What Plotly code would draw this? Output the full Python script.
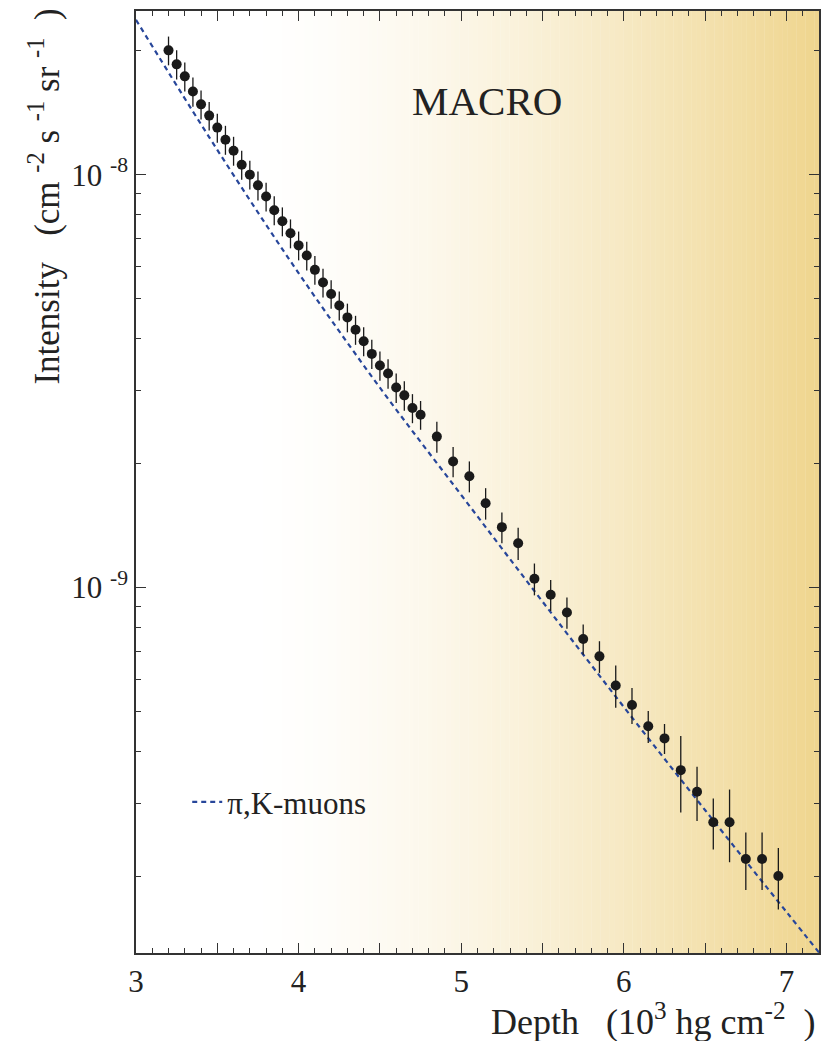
import plotly.graph_objects as go

# ---- data ----
depth = [3.20, 3.25, 3.30, 3.35, 3.40, 3.45, 3.50, 3.55, 3.60, 3.65, 3.70, 3.75,
         3.80, 3.85, 3.90, 3.95, 4.00, 4.05, 4.10, 4.15, 4.20, 4.25, 4.30, 4.35,
         4.40, 4.45, 4.50, 4.55, 4.60, 4.65, 4.70, 4.75,
         4.85, 4.95, 5.05, 5.15, 5.25, 5.35, 5.45, 5.55, 5.65, 5.75, 5.85, 5.95,
         6.05, 6.15, 6.25, 6.35, 6.45, 6.55, 6.65, 6.75, 6.85, 6.95]
# intensity in units of 1e-9 cm^-2 s^-1 sr^-1
intensity_e9 = [20.0, 18.5, 17.3, 15.9, 14.8, 13.9, 13.0, 12.15, 11.43, 10.57, 10.0, 9.42,
                8.85, 8.20, 7.71, 7.21, 6.74, 6.37, 5.88, 5.48, 5.14, 4.82, 4.51, 4.21,
                3.95, 3.68, 3.45, 3.30, 3.05, 2.92, 2.72, 2.62,
                2.32, 2.02, 1.86, 1.60, 1.40, 1.28, 1.05, 0.960, 0.870, 0.750, 0.681, 0.579,
                0.519, 0.461, 0.431, 0.361, 0.320, 0.270, 0.270, 0.220, 0.220, 0.200]
error_e9 = [1.6, 1.5, 1.4, 1.3, 1.2, 1.1, 1.05, 0.98, 0.92, 0.85, 0.80, 0.76,
            0.71, 0.66, 0.62, 0.58, 0.54, 0.51, 0.47, 0.44, 0.41, 0.39, 0.36, 0.34,
            0.32, 0.30, 0.28, 0.27, 0.25, 0.24, 0.22, 0.21,
            0.20, 0.17, 0.16, 0.14, 0.12, 0.115, 0.093, 0.083, 0.076, 0.063, 0.060, 0.068,
            0.052, 0.041, 0.036, 0.076, 0.048, 0.038, 0.054, 0.035, 0.035, 0.034]

# pi,K-muon prediction
model_depth = [3.0, 3.5, 4.0, 4.5, 5.0, 5.5, 6.0, 6.5, 7.0, 7.2]
model_e9 = [23.71, 11.48, 5.774, 3.048, 1.675, 0.924, 0.5133, 0.2887, 0.1637, 0.1306]

x_ticks = [3, 3.5, 4, 4.5, 5, 5.5, 6, 6.5, 7]
x_ticktext = ["3", "", "4", "", "5", "", "6", "", "7"]
y_ticks = [1e-9, 1e-8]
y_ticktext = ["10\u00a0<sup>-9</sup>", "10\u00a0<sup>-8</sup>"]

X_RANGE = [3.0, 7.2]
Y_RANGE = [-9.8854, -7.6036]

SERIF = "Liberation Serif, Times New Roman, serif"
INK = "#222222"
NB = "\u00a0"

y = [v * 1e-9 for v in intensity_e9]
ey = [v * 1e-9 for v in error_e9]
ym = [v * 1e-9 for v in model_e9]

fig = go.Figure()

fig.add_trace(go.Scatter(
    x=model_depth, y=ym, mode="lines", name="π,K-muons",
    line=dict(color="#27469a", width=2.2, dash="5px,4px", shape="spline"),
    showlegend=True,
))
fig.add_trace(go.Scatter(
    x=depth, y=y, mode="markers", name="MACRO data",
    marker=dict(color="#1a1a1a", size=10, line=dict(width=0)),
    error_y=dict(type="data", array=ey, visible=True, color="#1a1a1a",
                 thickness=1.3, width=0),
    showlegend=False,
))

# background gradient (white -> gold towards large depth)
shapes = []
n = 150
white = (255, 255, 255)
gold = (239, 213, 142)
for i in range(n):
    x0 = X_RANGE[0] + (X_RANGE[1] - X_RANGE[0]) * i / n
    x1 = X_RANGE[0] + (X_RANGE[1] - X_RANGE[0]) * (i + 1) / n
    xm = 0.5 * (x0 + x1)
    t = max(0.0, min(1.0, (xm - 3.7) / (X_RANGE[1] - 3.7)))
    t = t ** 1.5
    c = tuple(round(w + (g - w) * t) for w, g in zip(white, gold))
    shapes.append(dict(type="rect", xref="x", yref="paper", x0=x0, x1=x1 + 0.002,
                       y0=0, y1=1, layer="below", line=dict(width=0),
                       fillcolor="rgb(%d,%d,%d)" % c))

axis_common = dict(
    showline=True, linecolor="#333333", linewidth=1.5, mirror="allticks",
    ticks="inside", tickcolor="#333333", tickwidth=1.2, ticklen=10,
    showgrid=False, zeroline=False,
    tickfont=dict(family=SERIF, size=31, color=INK),
)

# page body has an 8px margin; size the figure so the plot lands where the reference has it
fig.update_layout(
    width=829, height=1033,
    margin=dict(l=128, r=18, t=1, b=88),
    paper_bgcolor="white", plot_bgcolor="white",
    shapes=shapes,
    xaxis=dict(
        range=X_RANGE, tickmode="array", tickvals=x_ticks, ticktext=x_ticktext,
        minor=dict(dtick=0.1, tick0=3, ticks="inside", ticklen=5,
                   tickcolor="#333333", tickwidth=1, showgrid=False),
        **axis_common,
    ),
    yaxis=dict(
        type="log", range=Y_RANGE, tickmode="array", tickvals=y_ticks,
        ticktext=y_ticktext,
        minor=dict(tickmode="array",
                   tickvals=[k * 1e-10 for k in range(2, 10)]
                   + [k * 1e-9 for k in range(2, 10)] + [2e-8],
                   ticks="inside", ticklen=5, tickcolor="#333333", tickwidth=1,
                   showgrid=False),
        **axis_common,
    ),
    legend=dict(x=0.075, y=0.16, xanchor="left", yanchor="middle",
                bgcolor="rgba(0,0,0,0)", borderwidth=0,
                font=dict(family=SERIF, size=31, color=INK)),
    annotations=[
        dict(text="MACRO", xref="paper", yref="paper", x=0.5135, y=0.9047,
             showarrow=False, xanchor="center", yanchor="middle",
             font=dict(family=SERIF, size=41, color=INK)),
        dict(text="Intensity" + NB * 3 + "(cm" + NB + "<sup>-2</sup>" + NB + "s" + NB
                  + "<sup>-1</sup>" + NB + "sr" + NB + "<sup>-1</sup>" + NB * 2 + ")",
             xref="paper", yref="paper", x=-0.1332, y=0.803, textangle=-90,
             showarrow=False, xanchor="center", yanchor="middle",
             font=dict(family=SERIF, size=35, color=INK)),
        dict(text="Depth" + NB * 3 + "(10<sup>3</sup>" + NB + "hg" + NB + "cm<sup>-2</sup>"
                  + NB * 2 + ")",
             xref="paper", yref="paper", x=0.9985, y=-0.071,
             showarrow=False, xanchor="right", yanchor="middle",
             font=dict(family=SERIF, size=36, color=INK)),
    ],
)

fig.write_html("out.html")
